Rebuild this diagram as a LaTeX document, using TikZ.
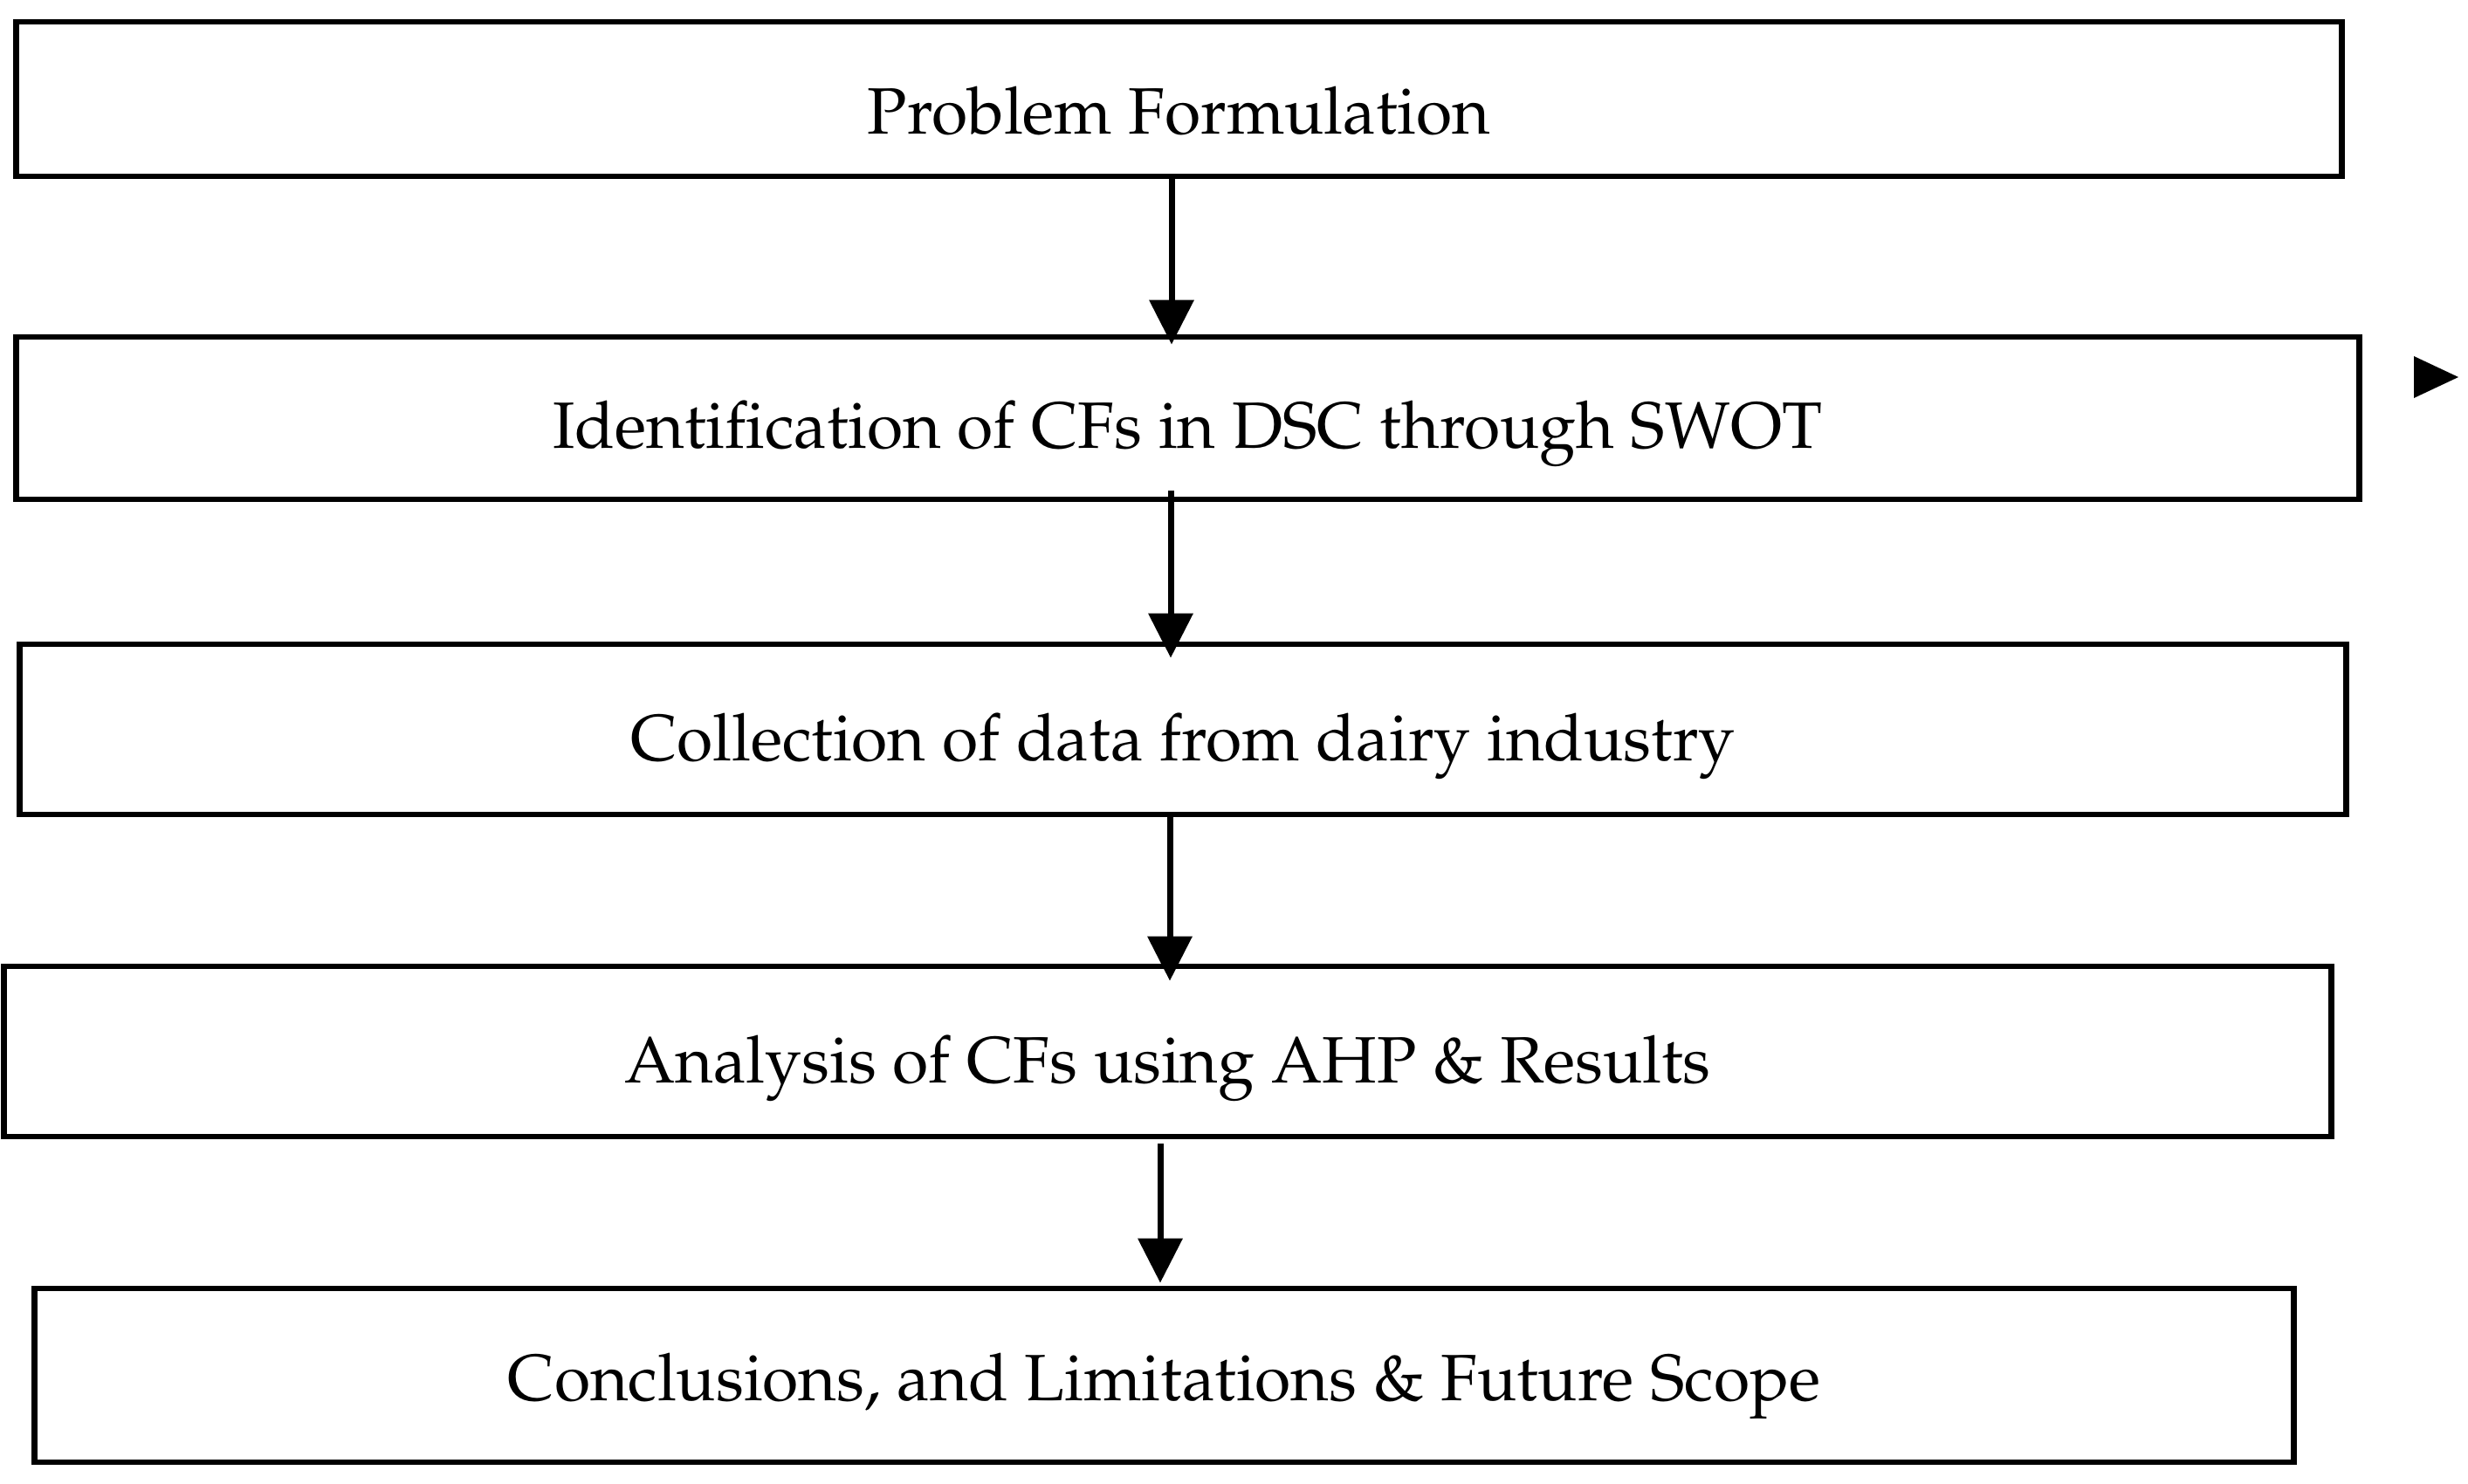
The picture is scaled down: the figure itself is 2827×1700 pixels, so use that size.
\documentclass[tikz,border=0pt]{standalone}
\usepackage[T1]{fontenc}
\usepackage{mathpazo}
\usetikzlibrary{arrows.meta,calc}
\tikzset{
  flowbox/.style={draw, line width=0.67mm, rectangle, inner sep=0pt, text depth=0pt,
    font=\fontsize{21.35}{25}\selectfont},
  arr/.style={line width=0.7mm, -{Triangle[width=5mm,length=5.1mm]}}
}
\begin{document}
\begin{tikzpicture}[x=0.01cm,y=-0.01cm]
\useasboundingbox (0,0) rectangle (2827,1700);
\node[flowbox, minimum width=26.63cm, minimum height=1.77cm, text height=7.9mm] (b1) at (1350.5,113.5) {Problem Formulation};
\node[flowbox, minimum width=26.83cm, minimum height=1.86cm, text height=6.8mm] (b2) at (1360.5,479) {Identification of CFs in DSC through SWOT};
\node[flowbox, minimum width=26.64cm, minimum height=1.95cm, text height=7.1mm] (b3) at (1355,835.5) {Collection of data from dairy industry};
\node[flowbox, minimum width=26.65cm, minimum height=1.95cm, text height=7.1mm] (b4) at (1337.5,1204.5) {Analysis of CFs using AHP \& Results};
\node[flowbox, minimum width=25.87cm, minimum height=1.99cm, text height=5.7mm] (b5) at (1333.5,1575.5) {Conclusions, and Limitations \& Future Scope};
\coordinate (ax1) at (1342,0);
\coordinate (ax2) at (1341,0);
\coordinate (ax3) at (1340,0);
\coordinate (ax4) at (1329,0);
\draw[arr] (b1.south -| ax1) -- ($(b2.north -| ax1)+(0,12)$);
\draw[arr] ($(b2.south -| ax2)+(0,-13)$) -- ($(b3.north -| ax2)+(0,19)$);
\draw[arr] (b3.south -| ax3) -- ($(b4.north -| ax3)+(0,20)$);
\draw[arr] ($(b4.south -| ax4)+(0,5)$) -- ($(b5.north -| ax4)+(0,-3)$);
\fill (2765,408) -- (2816,432) -- (2765,456) -- cycle;
\end{tikzpicture}
\end{document}
